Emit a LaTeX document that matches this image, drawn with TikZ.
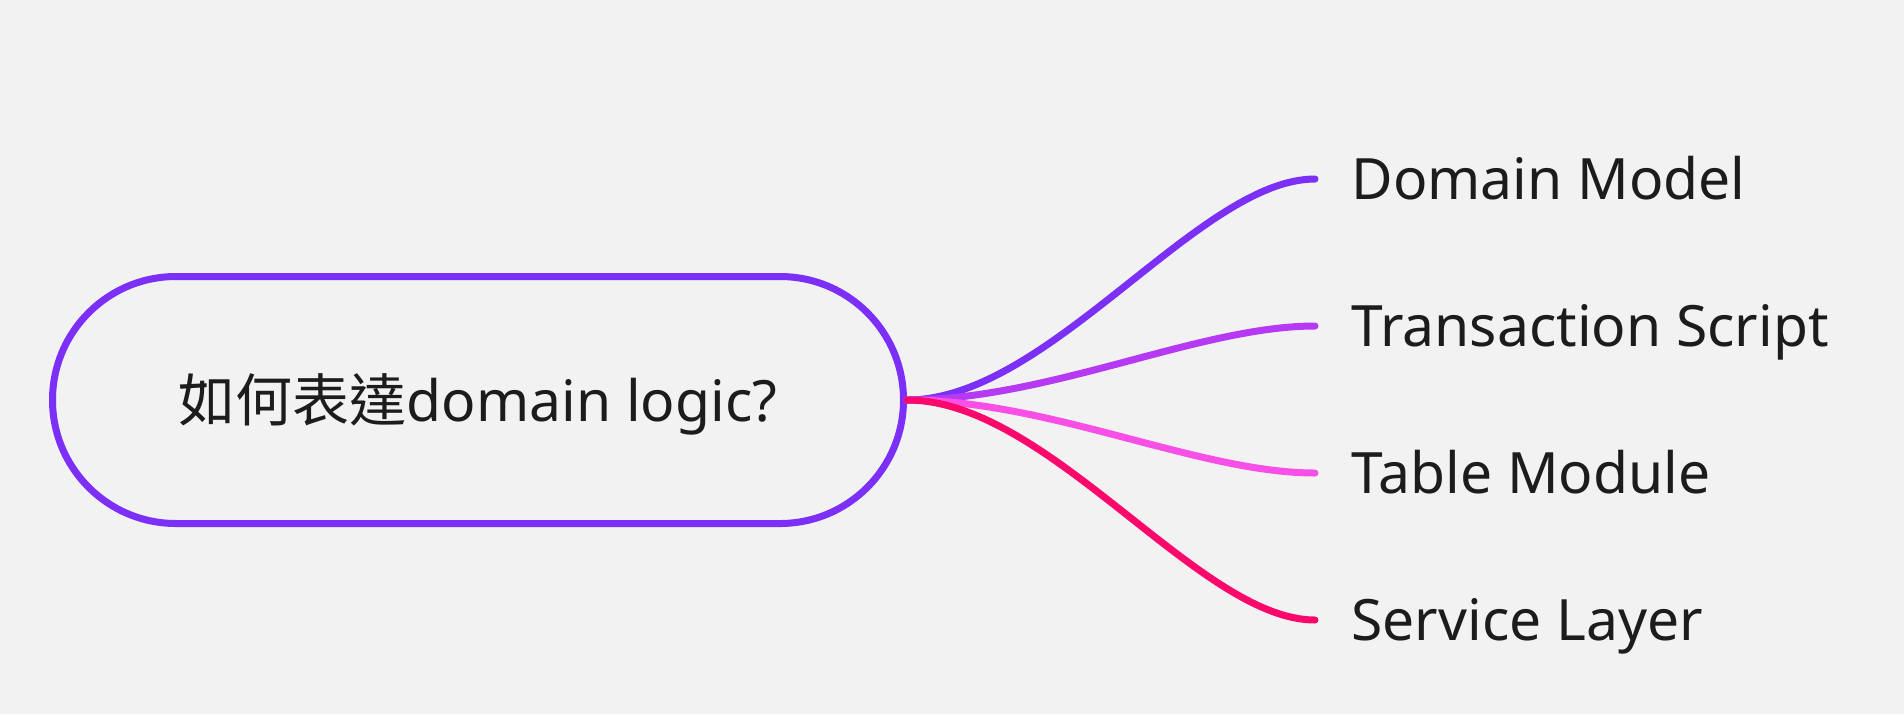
\documentclass[tikz,border=0pt]{standalone}
\usepackage{fontspec}
\setmainfont{Noto Sans}
\newfontfamily\cjk{Noto Sans CJK TC}
\usepackage{xcolor}
\usetikzlibrary{positioning}

\definecolor{bgpaper}{RGB}{242,242,242}
\definecolor{inkgrey}{RGB}{28,28,28}
\definecolor{violetA}{RGB}{123,47,247}
\definecolor{violetB}{RGB}{182,58,244}
\definecolor{pinkC}{RGB}{248,80,230}
\definecolor{redD}{RGB}{250,8,108}

\begin{document}
\begin{tikzpicture}[
  x=0.5pt, y=-0.5pt,
  node distance=73.5pt,
  hub/.style={draw=violetA, line width=3.5pt, rounded corners=61.75pt,
    minimum width=425.5pt, minimum height=123.5pt, inner sep=0pt,
    text height=21.5pt, text depth=0pt, text=inkgrey,
    font=\fontsize{28.5}{34}\selectfont},
  leaf/.style={anchor=west, inner xsep=18pt, inner ysep=0pt,
    text height=20.4pt, text depth=0pt, text=inkgrey,
    font=\fontsize{28.5}{34}\selectfont},
  branch/.style={line width=3.5pt, line cap=round}
]
\useasboundingbox[fill=bgpaper] (0,0) rectangle (1904,714);
\node[hub] (hub) at (478,400) {{\cjk 如何表達}domain logic?};
\node[leaf] (dm) at (1315,179) {Domain Model};
\node[leaf, below=of dm.west, anchor=west] (ts) {Transaction Script};
\node[leaf, below=of ts.west, anchor=west] (tm) {Table Module};
\node[leaf, below=of tm.west, anchor=west] (sl) {Service Layer};
\draw[branch, violetA] (hub.east) .. controls +(71pt,0) and +(-58pt,0) .. (dm.west);
\draw[branch, violetB] (hub.east) .. controls +(71pt,0) and +(-58pt,0) .. (ts.west);
\draw[branch, pinkC] (hub.east) .. controls +(71pt,0) and +(-58pt,0) .. (tm.west);
\draw[branch, redD] (hub.east) .. controls +(71pt,0) and +(-58pt,0) .. (sl.west);
\end{tikzpicture}
\end{document}
